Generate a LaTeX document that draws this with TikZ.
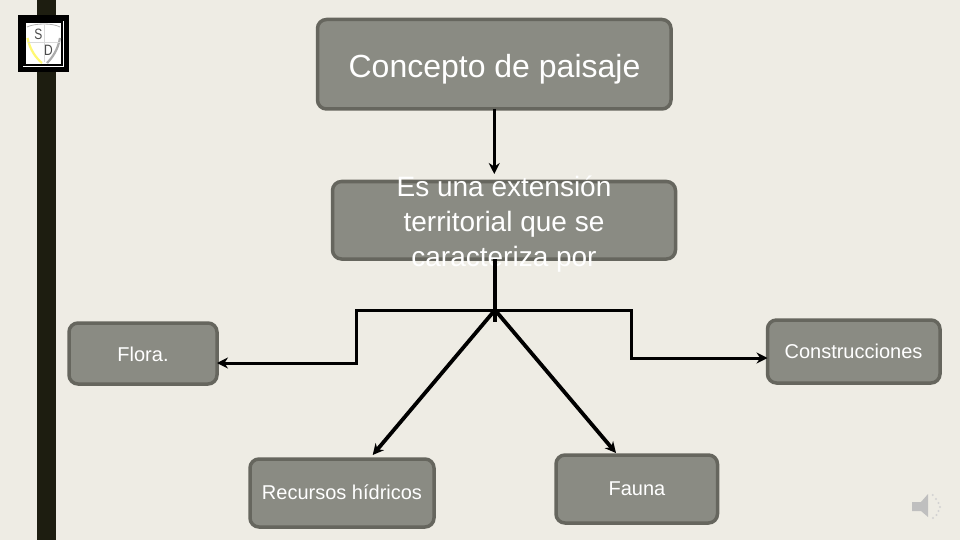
\documentclass[tikz,border=0pt]{standalone}
\usepackage{fontspec}
\setmainfont{Liberation Sans}
\usetikzlibrary{arrows.meta}
\definecolor{bgc}{RGB}{238,236,228}
\definecolor{barc}{RGB}{29,29,16}
\definecolor{boxf}{RGB}{138,139,131}
\definecolor{boxe}{RGB}{102,102,94}
\tikzset{
 x=1pt,y=-1pt,
 nbox/.style={draw=boxe,line width=3.5pt,fill=boxf,rounded corners=9pt,text=white,align=center,inner sep=0pt,outer sep=0pt,anchor=north west},
 lab/.style={text=white,inner sep=0pt,font=\fontsize{20}{24}\selectfont},
 conn/.style={draw=black,line width=3.4pt,line join=miter},
 thin conn/.style={conn,line width=3pt},
 tip/.style={-{Stealth[length=11pt,width=11pt]}},
}
\begin{document}
\begin{tikzpicture}
\useasboundingbox (0,0) rectangle (960,540);
\fill[bgc] (0,0) rectangle (960,540);
\fill[barc] (37,0) rectangle (56,540);
% logo
\fill[black] (18,15) rectangle (69,72);
\fill[white] (26,23) rectangle (61,64);
\draw[white,line width=1pt] (23,66.7) -- (63.5,66.7) -- (63.5,21);
\draw[gray!60,line width=.8pt] (27,27) .. controls (35,23) and (53,23) .. (60,27);
\draw[yellow!55!white,line width=2.2pt] (27.5,38) .. controls (30,50) and (36,58) .. (42,63);
\draw[gray!65,line width=2.2pt] (60,38) .. controls (58,50) and (52,58) .. (47,63);
\draw[gray!30,line width=.5pt] (44,25) -- (44,62) (28,42) -- (60,42);
\node[text=black!70,font=\fontsize{15}{15}\selectfont,xscale=.8,inner sep=0pt] (ls) at (38.3,34.5) {S};
\node[text=black!70,font=\fontsize{15}{15}\selectfont,xscale=.8,inner sep=0pt] (ld) at (48.5,50.5) {D};
% boxes
\node[nbox,minimum width=353.5pt,minimum height=89.5pt] (a) at (317.5,19.5) {};
\node[text=white,inner sep=0pt,font=\fontsize{32}{38}\selectfont] (at) at (494.5,69.5) {Concepto de paisaje};
\node[nbox,minimum width=343pt,minimum height=77.5pt] (b) at (332.5,181.5) {};
\node[text=white,align=center,inner sep=0pt,font=\fontsize{28}{35}\selectfont] (bt) at (504,224.5) {Es una extensión\\territorial que se\\caracteriza por};
\node[nbox,minimum width=148pt,minimum height=61pt] (f) at (69,323) {};
\node[lab] (ft) at (143,354) {Flora.};
\node[nbox,minimum width=172.5pt,minimum height=63pt] (c) at (767.5,320) {};
\node[lab] (ct) at (853.5,351) {Construcciones};
\node[nbox,minimum width=184pt,minimum height=68pt] (r) at (250,459) {};
\node[lab] (rt) at (342,492.5) {Recursos hídricos};
\node[nbox,minimum width=161.5pt,minimum height=68pt] (u) at (556,455) {};
\node[lab] (ut) at (637,488.5) {Fauna};
% connectors
\coordinate (j) at (495,310);
\coordinate (l1) at (356,310);
\coordinate (l2) at (356,363);
\coordinate (r1) at (631,310);
\coordinate (r2) at (631,358);
\coordinate (be) at (494.25,174);
\coordinate (bo2) at (495,322);
\coordinate (re) at (372.7,455);
\coordinate (ue) at (616,453);
\draw[thin conn,tip,line width=2.6pt] (a.south) -- (be);
\draw[conn] (j |- b.south) -- (bo2);
\draw[thin conn,tip] (j) -- (l1) -- (l2) -- (f.east |- l2);
\draw[thin conn,tip] (j) -- (r1) -- (r2) -- (c.west |- r2);
\draw[conn,line width=3.8pt,tip] (j) -- (re);
\draw[conn,line width=3.8pt,tip] (j) -- (ue);
% speaker
\fill[gray!50] (912,502) -- (921,502) -- (928,494) -- (928,517) -- (921,511) -- (912,511) -- cycle;
\foreach \a/\b in {932.7/495,936/499,938.5/503,940/507,938.5/511,936.5/515,933/518}
  \fill[gray!35] (\a,\b) circle (1.2pt);
\end{tikzpicture}
\end{document}
